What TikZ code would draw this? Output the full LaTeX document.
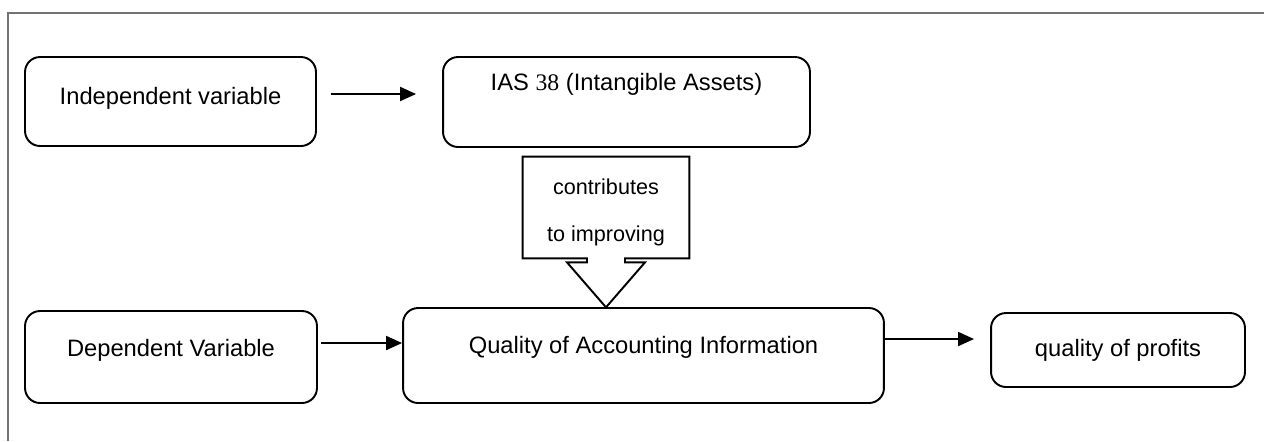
\documentclass[tikz,border=0pt]{standalone}
\usepackage{fontspec}
\setmainfont{Liberation Sans}
\newfontfamily\numfont{Liberation Serif}
\usetikzlibrary{arrows.meta}

\begin{document}
\begin{tikzpicture}[
  x=0.02cm, y=-0.02cm,
  line/.style={line width=1.1pt},
  varbox/.style={draw, line, rounded corners=0.3cm, inner sep=0pt, text height=0.34cm, text depth=#1,
    font=\fontsize{13.5}{16}\selectfont},
  arr/.style={line, -{Triangle[length=0.32cm, width=0.28cm]}},
  frame/.style={draw=black!55, line width=1pt}
]
\useasboundingbox (0,0) rectangle (1264,441);
\draw[frame] (1264,13) -- (8,13) -- (8,441);

\node[varbox=0.24cm, minimum width=5.82cm, minimum height=1.78cm] (indep) at (170.5,101.5) {Independent variable};
\node[varbox=0.8cm, minimum width=7.34cm, minimum height=1.8cm] (ias) at (626.5,102) {IAS {\numfont 38} (Intangible Assets)};
\node[varbox=0.36cm, minimum width=5.84cm, minimum height=1.84cm] (dep) at (171,357) {Dependent Variable};
\node[varbox=0.42cm, minimum width=9.62cm, minimum height=1.9cm] (qual) at (643.5,355.5) {Quality of Accounting Information};
\node[varbox=0.08cm, minimum width=5.08cm, minimum height=1.48cm] (prof) at (1118,350) {quality of profits};

% callout between the two rows
\node[minimum width=3.32cm, minimum height=2.02cm, align=center, font=\fontsize{12.3}{26.5}\selectfont] (callout) at (606,207.5) {\rule{0pt}{0.52cm}contributes\\to improving};
\coordinate (tip) at ([yshift=-0.98cm]callout.south);
\draw[line] ([xshift=-0.38cm]callout.south) -- (callout.south west) -- (callout.north west) -- (callout.north east)
  -- (callout.south east) -- ([xshift=0.38cm]callout.south) -- ++(0cm,-0.08cm) -- ++(0.4cm,0cm) -- (tip)
  -- ++(-0.78cm,0.9cm) -- ++(0.4cm,0cm) -- cycle;

\draw[arr, shorten <=0.28cm, shorten >=0.52cm] ([yshift=0.15cm]indep.east) -- ([yshift=0.15cm]indep.east -| ias.west);
\draw[arr, shorten <=0.06cm] ([yshift=0.28cm]dep.east) -- ([yshift=0.28cm]dep.east -| qual.west);
\draw[arr, shorten >=0.32cm] ([yshift=0.33cm]qual.east) -- ([yshift=0.33cm]qual.east -| prof.west);
\end{tikzpicture}
\end{document}
